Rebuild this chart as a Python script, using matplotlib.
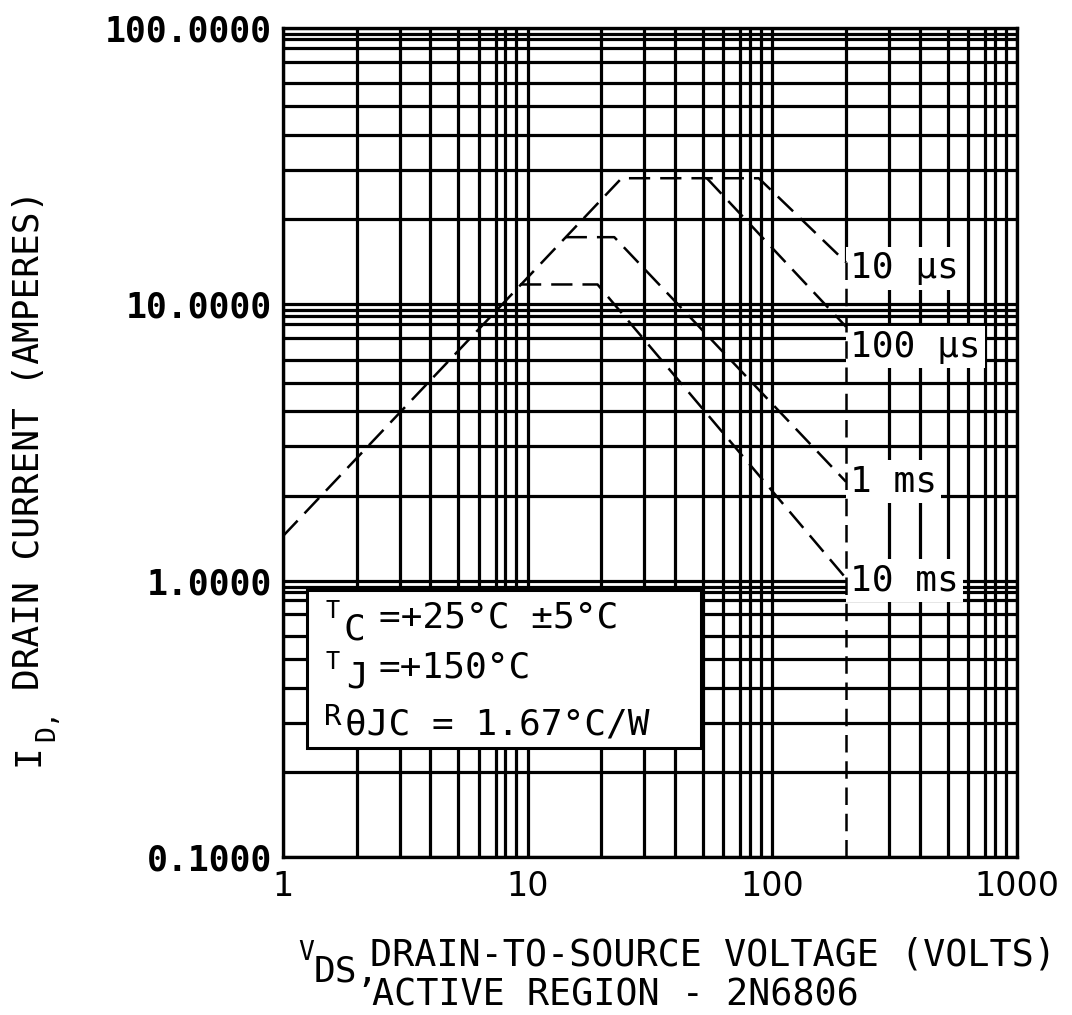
import matplotlib.pyplot as plt
from matplotlib.patches import Rectangle

# safe operating area, V_DS (volts) vs I_D (amperes)
v_10us = [1, 24.2, 88, 200]
i_10us = [1.45, 28.6, 28.6, 14.2]
v_100us = [54, 200]
i_100us = [28.6, 8.3]
v_1ms = [14.3, 22.6, 200]
i_1ms = [17.5, 17.5, 2.28]
v_10ms = [9.3, 19.3, 200]
i_10ms = [11.8, 11.8, 1.02]
v_limit = [200, 200]
i_limit = [14.2, 0.1]

curve_labels = ["10 µs", "100 µs", "1 ms", "10 ms"]
label_currents = [13.5, 7.0, 2.29, 1.0]
label_voltage = 208

x_ticks = [1, 10, 100, 1000]
x_ticklabels = ["1", "10", "100", "1000"]
y_ticks = [0.1, 1, 10, 100]
y_ticklabels = ["0.1000", "1.0000", "10.0000", "100.0000"]

# grid spacing as printed on the sheet (not quite a true log grid)
x_grid_steps = [2, 3, 4, 5.2, 6.3, 7.4, 8.1, 9]
y_grid_steps = [2.03, 3.06, 4.1, 5.2, 6.3, 7.55, 8.5, 9.1, 9.5]

W, H = 1072, 1015
MONO = "DejaVu Sans Mono"
NARROW = ["Liberation Sans Narrow", "DejaVu Sans"]

fig = plt.figure(figsize=(W / 100, H / 100), dpi=100)
ax = fig.add_axes([283 / W, 1 - 857 / H, (1017 - 283) / W, (857 - 28) / H])
ax.set_xscale("log")
ax.set_yscale("log")
ax.set_xlim(1, 1000)
ax.set_ylim(0.1, 100)

# grid
x_minor = [d * s for d in x_ticks[:-1] for s in x_grid_steps]
x_minor = [v for v in x_minor if abs(v - v_limit[0]) > 1e-6]
y_minor = [d * s for d in y_ticks[:-1] for s in y_grid_steps]
ax.set_xticks(x_ticks, x_ticklabels)
ax.set_yticks(y_ticks, y_ticklabels)
ax.set_xticks(x_minor, minor=True)
ax.set_yticks(y_minor, minor=True)
ax.tick_params(which="both", length=0)
ax.tick_params(axis="x", which="minor", labelbottom=False)
ax.tick_params(axis="y", which="minor", labelleft=False)
ax.tick_params(axis="x", pad=9)
ax.tick_params(axis="y", pad=8)
ax.set_axisbelow(True)
ax.grid(which="both", color="black", lw=2.3)
# the 200 V grid line stops where the dashed limit begins
ax.vlines(v_limit[0], i_limit[0], y_ticks[-1], color="black", lw=2.3, zorder=0.6)

for lab in ax.get_xticklabels():
    lab.set_family(NARROW)
    lab.set_fontsize(24)
for lab in ax.get_yticklabels():
    lab.set_family(MONO)
    lab.set_fontsize(25)
    lab.set_fontweight("bold")

for sp in ax.spines.values():
    sp.set_linewidth(2.4)

dash = dict(color="black", lw=1.8, dashes=(8.5, 4), zorder=6)
ax.plot(v_10us, i_10us, **dash)
ax.plot(v_100us, i_100us, **dash)
ax.plot(v_1ms, i_1ms, **dash)
ax.plot(v_10ms, i_10ms, **dash)
ax.plot(v_limit, i_limit, color="black", lw=1.8, dashes=(7, 3.5), zorder=6)

for txt, cur in zip(curve_labels, label_currents):
    ax.text(label_voltage, cur, txt, family=MONO, fontsize=26, ha="left", va="center",
            zorder=5, bbox=dict(fc="white", ec="none", pad=3))


def put(x, y, s, size, **kw):
    # x = left edge, y = baseline, both in pixels from the top left
    fig.text(x / W, 1 - y / H, s, family=MONO, fontsize=size, ha="left", va="baseline", **kw)


# conditions box
fig.add_artist(Rectangle((307 / W, 1 - 748 / H), 394 / W, 158 / H, transform=fig.transFigure,
                         fc="white", ec="black", lw=2.2, zorder=1))
put(325, 618, "T", 17)
put(344, 640, "C", 26)
put(379, 628, "=+25°C ±5°C", 26)
put(325, 669, "T", 17)
put(346, 688, "J", 26)
put(379, 678, "=+150°C", 26)
put(324, 725, "R", 21)
put(345, 735, "θJC = 1.67°C/W", 26)

# x axis title
put(298, 960, "V", 19)
put(314, 982, "DS,", 26)
put(370, 966, "DRAIN-TO-SOURCE VOLTAGE (VOLTS)", 26.5)
put(372, 1006, "ACTIVE REGION - 2N6806", 26.5)

# y axis title
fig.text(29 / W, 1 - 690 / H, "DRAIN CURRENT (AMPERES)", family=MONO, fontsize=26,
         rotation=90, ha="center", va="bottom")
fig.text(29 / W, 1 - 766 / H, "I", family=MONO, fontsize=26, rotation=90, ha="center", va="bottom")
fig.text(47 / W, 1 - 741 / H, "D,", family=MONO, fontsize=19, rotation=90, ha="center", va="bottom")

fig.savefig("out.png", dpi=100, facecolor="white")
